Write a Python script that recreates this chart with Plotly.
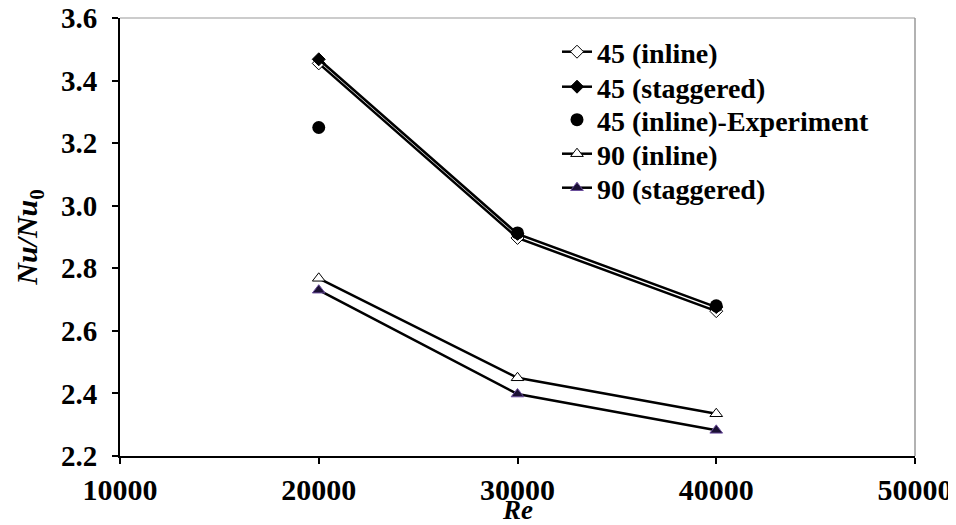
import plotly.graph_objects as go

re_vals = [20000, 30000, 40000]
inline45 = [3.455, 2.897, 2.663]
stag45 = [3.468, 2.910, 2.676]
exp45 = [3.25, 2.913, 2.68]
inline90 = [2.768, 2.450, 2.335]
stag90 = [2.730, 2.398, 2.282]

x_ticks = [10000, 20000, 30000, 40000, 50000]
y_ticks = [2.2, 2.4, 2.6, 2.8, 3.0, 3.2, 3.4, 3.6]
y_labels = ["2.2", "2.4", "2.6", "2.8", "3.0", "3.2", "3.4", "3.6"]

FONT = "Liberation Serif"

# page body adds 8px margin; figure sized so it fills the 956x525 window
W, H = 948, 517
L, R, T, B = 112, 41, 10, 69
PH = H - T - B

fig = go.Figure()
series = [
    ("45 (inline)", inline45, "lines+markers",
     dict(symbol="diamond", size=10, color="white", line=dict(color="black", width=1))),
    ("45 (staggered)", stag45, "lines+markers",
     dict(symbol="diamond", size=10, color="black", line=dict(color="black", width=1))),
    ("45 (inline)-Experiment", exp45, "markers",
     dict(symbol="circle", size=13, color="black")),
    ("90 (inline)", inline90, "lines+markers",
     dict(symbol="triangle-up", size=11, color="white", line=dict(color="black", width=1))),
    ("90 (staggered)", stag90, "lines+markers",
     dict(symbol="triangle-up", size=11, color="#1a1033", line=dict(color="#6a4c9c", width=1))),
]
legend_names = ["legend", "legend2", "legend3", "legend4", "legend5"]
legend_centers = [44, 79, 112, 146, 180]  # figure pixel y of each legend row

for (name, ys, mode, mk), lg in zip(series, legend_names):
    fig.add_trace(go.Scatter(x=re_vals, y=ys, name=name, mode=mode,
                             line=dict(color="black", width=2.5),
                             marker=mk, legend=lg))

leg_x = (549 - L) / (W - L - R)
legend_layout = {}
for lg, cy in zip(legend_names, legend_centers):
    legend_layout[lg] = dict(
        x=leg_x, y=1 - (cy - T) / PH, xanchor="left", yanchor="middle",
        font=dict(family=FONT, size=28, color="black", weight="bold"),
        bgcolor="rgba(0,0,0,0)", itemwidth=30)

fig.update_layout(
    width=W, height=H,
    margin=dict(l=L, r=R, t=T, b=B),
    plot_bgcolor="white", paper_bgcolor="white",
    font=dict(family=FONT, color="black"),
    showlegend=True,
    xaxis=dict(range=[10000, 50000], tickvals=x_ticks, ticktext=[str(v) for v in x_ticks],
               automargin=False, ticklabeloverflow="allow",
               showgrid=False, zeroline=False, showline=True, linecolor="black", linewidth=2,
               ticks="outside", ticklen=6, tickwidth=2, tickcolor="black",
               ticklabelstandoff=0,
               tickfont=dict(family=FONT, size=30, weight="bold")),
    yaxis=dict(range=[2.2, 3.6], tickvals=y_ticks, ticktext=y_labels,
               automargin=False, ticklabeloverflow="allow",
               showgrid=False, zeroline=False, showline=True, linecolor="black", linewidth=2,
               ticks="outside", ticklen=6, tickwidth=2, tickcolor="black",
               ticklabelstandoff=9,
               tickfont=dict(family=FONT, size=29, weight="bold"),
               title=dict(text="<b><i>Nu/Nu</i><sub>0</sub></b>", font=dict(family=FONT, size=30), standoff=14)),
    **legend_layout,
)

# x-axis title placed just below the tick labels
fig.add_annotation(text="<b><i>Re</i></b>", xref="paper", yref="paper",
                   x=0.5, y=-(502 - (T + PH)) / PH, xanchor="center", yanchor="middle",
                   showarrow=False, font=dict(family=FONT, size=27, color="black"))

# thin grey frame on top and right
fig.add_shape(type="line", xref="paper", yref="paper", x0=0, x1=1, y0=1, y1=1,
              line=dict(color="#999999", width=1))
fig.add_shape(type="line", xref="paper", yref="paper", x0=1, x1=1, y0=0, y1=1,
              line=dict(color="#999999", width=1.5))

fig.write_html("out.html")
